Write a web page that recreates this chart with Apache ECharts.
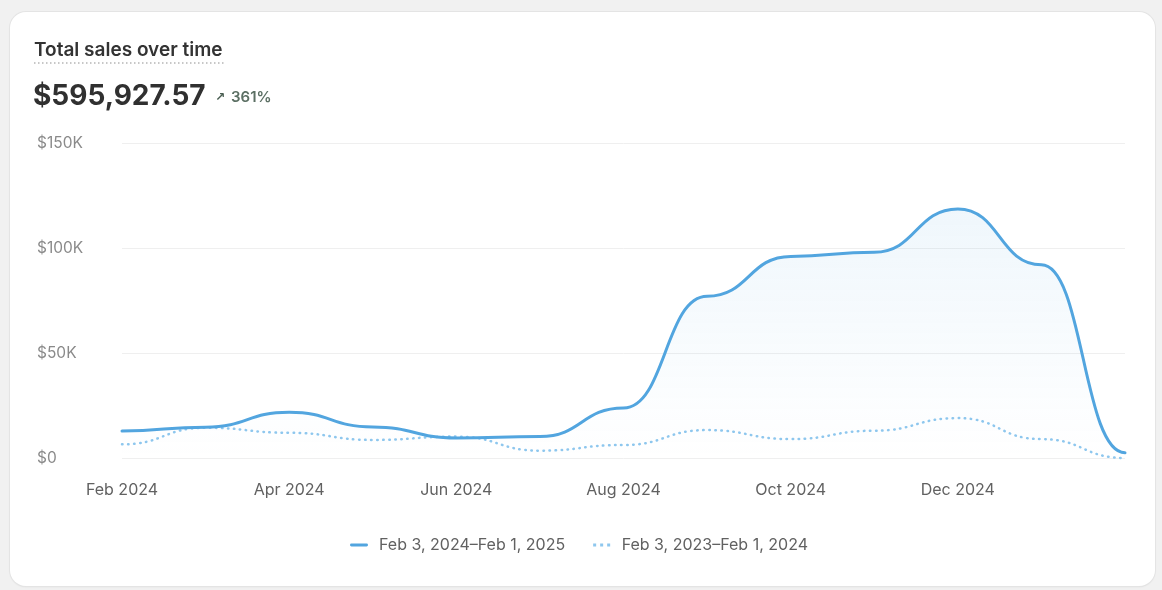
<!DOCTYPE html>
<html>
<head>
<meta charset="utf-8">
<script src="https://cdn.jsdelivr.net/npm/echarts@6/dist/echarts.min.js"></script>
<style>
  html, body { margin:0; padding:0; width:1162px; height:590px; background:#f1f1f1; overflow:hidden; font-family: Inter, "Noto Sans", sans-serif; }
  #card { position:absolute; left:10px; top:12px; width:1145px; height:574px; background:#fff; border-radius:16px; box-shadow:0 0 0 1px #e4e4e4, 0 1px 2px rgba(0,0,0,0.08); }
  #chart { position:absolute; left:0; top:0; width:1162px; height:590px; }
</style>
</head>
<body>
<div id="card"></div>
<div id="chart"></div>
<script>
const categories = ['Feb 2024','Mar 2024','Apr 2024','May 2024','Jun 2024','Jul 2024','Aug 2024','Sep 2024','Oct 2024','Nov 2024','Dec 2024','Jan 2025','Feb 2025'];
const currentSales = [12900, 14700, 21800, 14800, 9500, 10200, 23800, 77000, 96000, 98000, 118600, 92000, 2500];
const previousSales = [6500, 14400, 12000, 8600, 10200, 3500, 6200, 13300, 9000, 13000, 19000, 9000, 0];
const yTicks = [0, 50000, 100000, 150000];
const seriesNames = ['Feb 3, 2024\u2013Feb 1, 2025', 'Feb 3, 2023\u2013Feb 1, 2024'];
const titleText = 'Total sales over time';
const totalText = '$595,927.57';
const changeText = '361%';

const chart = echarts.init(document.getElementById('chart'), null, {renderer:'canvas'});
const solidColor = '#52a5df';
const dotColor = '#8ec7ee';
const K = 0.5;

function curvePath(api, values) {
  const pts = values.map((v, i) => api.coord([i, v]));
  let d = 'M' + pts[0][0] + ',' + pts[0][1];
  for (let i = 1; i < pts.length; i++) {
    const p0 = pts[i-1], p1 = pts[i];
    const h = (p1[0] - p0[0]) * K;
    d += ' C' + (p0[0] + h) + ',' + p0[1] + ' ' + (p1[0] - h) + ',' + p1[1] + ' ' + p1[0] + ',' + p1[1];
  }
  return { d: d, pts: pts };
}

function makeRender(values, opts) {
  return function(params, api) {
    if (params.dataIndex !== 0) return null;
    const c = curvePath(api, values);
    const base = api.coord([0, 0])[1];
    const children = [];
    if (opts.area) {
      const first = c.pts[0], last = c.pts[c.pts.length-1];
      children.push({
        type:'path',
        shape:{ pathData: c.d + ' L' + last[0] + ',' + base + ' L' + first[0] + ',' + base + ' Z' },
        style:{ fill: new echarts.graphic.LinearGradient(0,0,0,1,[
          { offset:0, color:'rgba(82,165,223,0.09)' },
          { offset:1, color:'rgba(82,165,223,0.0)' }
        ]), stroke:null }
      });
    }
    children.push({
      type:'path',
      shape:{ pathData: c.d },
      style:{ fill:'none', stroke: opts.color, lineWidth: opts.width, lineDash: opts.dash || null, lineCap:'round', lineJoin:'round' }
    });
    return { type:'group', children: children };
  };
}

chart.setOption({
  backgroundColor: 'transparent',
  animation: false,
  textStyle: { fontFamily: 'Inter, "Noto Sans", sans-serif' },
  graphic: [
    { type:'text', left:34, top:41, style:{ text:titleText, font:'600 19px Inter, sans-serif', fill:'#333333' } },
    { type:'line', shape:{ x1:34, y1:63, x2:224, y2:63 }, style:{ stroke:'#b5b5b5', lineWidth:1.5, lineDash:[1.5,2.5] } },
    { type:'text', left:33, top:83, style:{ text:totalText, font:'700 28px Inter, sans-serif', fill:'#303030' } },
    { type:'text', left:215, top:92, style:{ text:'\u2197', font:'700 12px "DejaVu Sans", sans-serif', fill:'#4a5e52' } },
    { type:'text', left:231, top:90, style:{ text:changeText, font:'600 15px Inter, sans-serif', fill:'#5b6f63' } }
  ],
  grid: { left:122, right:37, top:143, bottom:132, containLabel:false },
  legend: {
    bottom: 32,
    left: 345,
    itemGap: 28,
    itemWidth: 18,
    itemHeight: 3,
    textStyle: { color:'#616161', fontSize:16, fontFamily:'Inter, sans-serif', padding:[0,0,0,6] },
    data: [
      { name: seriesNames[0], icon: 'path://M1,0H17A1,1 0 0 1 17,3H1A1,1 0 0 1 1,0Z' },
      { name: seriesNames[1], icon: 'path://M0,0h3v3h-3z M7,0h3v3h-3z M14,0h3v3h-3z' }
    ]
  },
  xAxis: {
    type:'category',
    data: categories,
    boundaryGap:false,
    axisLine:{ show:false },
    axisTick:{ show:false },
    axisLabel:{
      color:'#616161', fontSize:16, margin:24,
      interval: function(i){ return i % 2 === 0 && i < categories.length - 1; }
    },
    splitLine:{ show:false }
  },
  yAxis: {
    type:'value',
    min: yTicks[0], max: yTicks[yTicks.length-1], interval: 50000,
    axisLine:{ show:false }, axisTick:{ show:false },
    axisLabel:{
      color:'#8a8a8a', fontSize:15.5, align:'left', margin:85, padding:[3,0,0,0],
      formatter: function(v){ return v === 0 ? '$0' : '$' + (v/1000) + 'K'; }
    },
    splitLine:{ lineStyle:{ color:'#efefef', width:1 } }
  },
  series: [
    {
      name: seriesNames[1], type:'custom',
      data: previousSales.map((v, i) => [i, v]),
      encode:{ x:0, y:1 },
      itemStyle:{ color:dotColor },
      renderItem: makeRender(previousSales, { color:dotColor, width:2.5, dash:[0.5,5.5] }),
      z: 2
    },
    {
      name: seriesNames[0], type:'custom',
      data: currentSales.map((v, i) => [i, v]),
      encode:{ x:0, y:1 },
      itemStyle:{ color:solidColor },
      renderItem: makeRender(currentSales, { color:solidColor, width:3, area:true }),
      z: 3
    }
  ]
});
</script>
</body>
</html>
